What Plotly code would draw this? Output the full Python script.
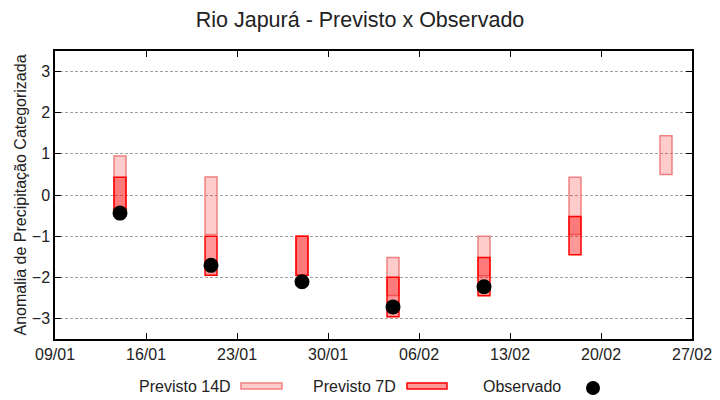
import plotly.graph_objects as go

# ---- data ----
dates = ["2025-01-14", "2025-01-21", "2025-01-28", "2025-02-04",
         "2025-02-11", "2025-02-18", "2025-02-25"]
p14_top = [0.95, 0.44, -1.0, -1.52, -1.0, 0.43, 1.44]
p14_bot = [-0.5, -0.96, -1.95, -2.44, -1.96, -0.96, 0.5]
p7_dates = ["2025-01-14", "2025-01-21", "2025-01-28", "2025-02-04",
            "2025-02-11", "2025-02-18"]
p7_top = [0.43, -1.0, -1.0, -2.0, -1.52, -0.52]
p7_bot = [-0.5, -1.95, -1.95, -2.96, -2.45, -1.45]
obs_dates = ["2025-01-14", "2025-01-21", "2025-01-28", "2025-02-04", "2025-02-11"]
obs_vals = [-0.44, -1.71, -2.11, -2.72, -2.23]
xtick_vals = ["2025-01-09", "2025-01-16", "2025-01-23", "2025-01-30",
              "2025-02-06", "2025-02-13", "2025-02-20", "2025-02-27"]
xtick_text = ["09/01", "16/01", "23/01", "30/01", "06/02", "13/02", "20/02", "27/02"]
ytick_vals = [-3, -2, -1, 0, 1, 2, 3]

# ---- style ----
FONT = "Liberation Sans, Arial, sans-serif"
C14_FILL = "rgba(255,0,0,0.2)"
C14_LINE = "rgb(240,128,128)"
C7_FILL = "rgba(255,0,0,0.4)"
C7_LINE = "rgb(255,0,0)"
BAR_W = 0.92 * 86400000

W, H = 720, 400
ML, MR, MT, MB = 55, 28, 51, 61
PW, PH = W - ML - MR, H - MT - MB


def px(x):
    return (x - ML) / PW


def py(y):
    return (H - MB - y) / PH


fig = go.Figure()
fig.add_trace(go.Bar(
    x=dates, base=p14_bot, y=[t - b for t, b in zip(p14_top, p14_bot)],
    width=BAR_W, marker=dict(color=C14_FILL, line=dict(color=C14_LINE, width=1.5)),
    name="Previsto 14D", showlegend=False))
fig.add_trace(go.Bar(
    x=p7_dates, base=p7_bot, y=[t - b for t, b in zip(p7_top, p7_bot)],
    width=BAR_W, marker=dict(color=C7_FILL, line=dict(color=C7_LINE, width=1.5)),
    name="Previsto 7D", showlegend=False))
fig.add_trace(go.Scatter(
    x=obs_dates, y=obs_vals, mode="markers",
    marker=dict(color="black", size=15, line=dict(width=0)),
    name="Observado", showlegend=False))

# ---- gnuplot-style legend (text followed by sample) ----
ly = py(386)
legend_items = [("Previsto 14D", 233, 241, 282, "bar14"),
                ("Previsto 7D", 398, 407, 447, "bar7"),
                ("Observado", 563, 593, 593, "dot")]
annotations = []
shapes = []
for label, text_right, s0, s1, kind in legend_items:
    annotations.append(dict(text=label, x=px(text_right), y=ly, xref="paper", yref="paper",
                            xanchor="right", yanchor="middle", showarrow=False,
                            font=dict(family=FONT, size=16, color="#222")))
    if kind == "bar14":
        shapes.append(dict(type="rect", xref="paper", yref="paper",
                           x0=px(s0), x1=px(s1), y0=py(389), y1=py(383),
                           fillcolor=C14_FILL, line=dict(color=C14_LINE, width=1.5)))
    elif kind == "bar7":
        shapes.append(dict(type="rect", xref="paper", yref="paper",
                           x0=px(s0), x1=px(s1), y0=py(389), y1=py(383),
                           fillcolor=C7_FILL, line=dict(color=C7_LINE, width=1.5)))
    else:
        shapes.append(dict(type="circle", xref="paper", yref="paper",
                           xsizemode="pixel", ysizemode="pixel",
                           xanchor=px(s0), yanchor=py(388),
                           x0=-7, x1=7, y0=-7, y1=7,
                           fillcolor="black", line=dict(width=0)))

fig.update_layout(
    width=W, height=H,
    margin=dict(l=ML, r=MR, t=MT, b=MB, autoexpand=False),
    paper_bgcolor="white", plot_bgcolor="white",
    barmode="overlay",
    hovermode=False,
    font=dict(family=FONT, size=16, color="#222"),
    title=dict(text="Rio Japurá - Previsto x Observado", x=0.5, xanchor="center",
               y=1 - 19 / H, yanchor="middle", font=dict(family=FONT, size=21.5, color="#222")),
    annotations=annotations,
    shapes=shapes,
)
fig.update_xaxes(
    type="date", range=["2025-01-09", "2025-02-27"],
    tickvals=xtick_vals, ticktext=xtick_text,
    ticks="inside", ticklen=6, tickcolor="black", tickwidth=1,
    showgrid=False, zeroline=False,
    showline=True, linecolor="black", linewidth=1.5, mirror="ticks",
    tickfont=dict(family=FONT, size=16, color="#222"),
)
fig.update_yaxes(
    range=[-3.5, 3.5], tickvals=ytick_vals,
    ticks="inside", ticklen=6, tickcolor="black", tickwidth=1,
    showgrid=True, gridcolor="#a0a0a0", griddash="3px,2px", gridwidth=1,
    zeroline=False,
    showline=True, linecolor="black", linewidth=1.5, mirror="ticks",
    tickfont=dict(family=FONT, size=16, color="#222"),
    title=dict(text="Anomalia de Precipitação Categorizada", standoff=1,
               font=dict(family=FONT, size=16, color="#222")),
)

fig.write_html("out.html", post_script="document.body.style.margin='0';",
               config={"displayModeBar": False})
